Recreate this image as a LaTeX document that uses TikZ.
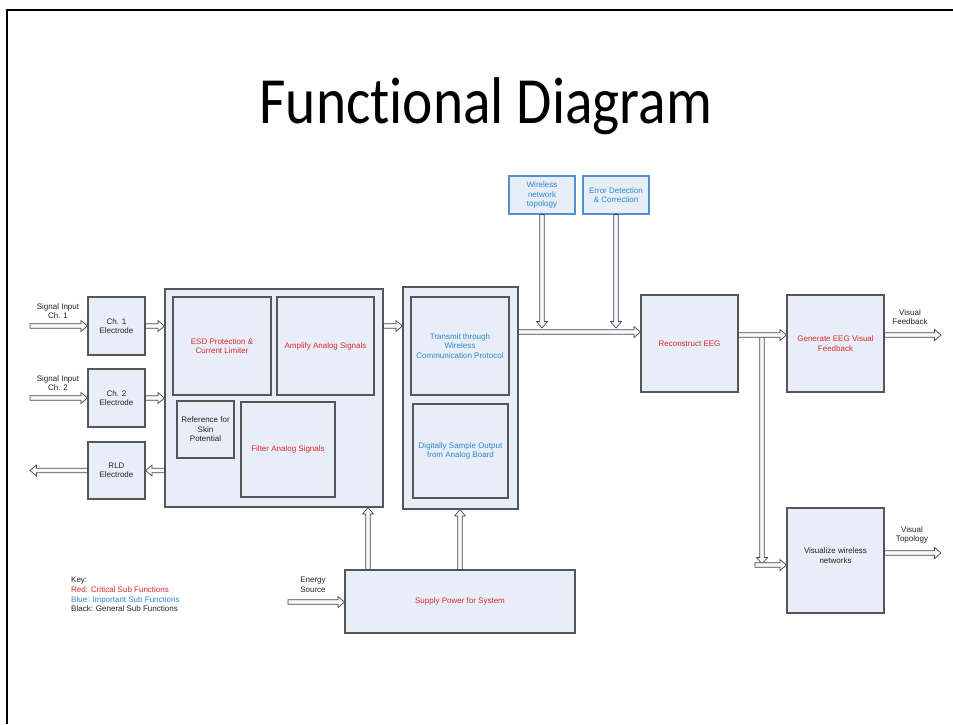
\documentclass[tikz,border=0pt]{standalone}
\usepackage{fontspec}
\setmainfont{Liberation Sans}
\newfontfamily\titlefont[Ligatures=NoCommon]{Carlito}
\usetikzlibrary{calc}

\definecolor{boxfill}{RGB}{232,238,247}
\definecolor{boxline}{RGB}{85,85,90}
\definecolor{bluebox}{RGB}{80,145,210}
\definecolor{critred}{RGB}{222,40,45}
\definecolor{impblue}{RGB}{45,135,210}
\definecolor{gentext}{RGB}{35,35,35}
\definecolor{arrline}{RGB}{70,72,80}
\definecolor{arrfill}{RGB}{246,248,252}

\tikzset{
  box/.style={draw=boxline, fill=boxfill, line width=1.1pt, inner sep=1pt, align=center,
    font=\fontsize{8}{9.5}\selectfont, text=gentext},
  crit/.style={text=critred},
  imp/.style={text=impblue},
  bluebx/.style={box, draw=bluebox, text=impblue},
  lbl/.style={align=center, font=\fontsize{8}{9.5}\selectfont, text=gentext, inner sep=0pt},
  barrow/.style={draw=arrline, fill=arrfill, line width=0.7pt, line join=miter,
    to path={let \p1=(\tikztostart), \p2=(\tikztotarget),
      \n1={veclen(\x2-\x1,\y2-\y1)}, \n2={(\x2-\x1)/\n1}, \n3={(\y2-\y1)/\n1} in
      (\x1-\n3*2.3pt, \y1+\n2*2.3pt)
      -- (\x2-\n2*6.5pt-\n3*2.3pt, \y2-\n3*6.5pt+\n2*2.3pt)
      -- (\x2-\n2*6.5pt-\n3*5.5pt, \y2-\n3*6.5pt+\n2*5.5pt)
      -- (\x2,\y2)
      -- (\x2-\n2*6.5pt+\n3*5.5pt, \y2-\n3*6.5pt-\n2*5.5pt)
      -- (\x2-\n2*6.5pt+\n3*2.3pt, \y2-\n3*6.5pt-\n2*2.3pt)
      -- (\x1+\n3*2.3pt, \y1-\n2*2.3pt) -- cycle}}
}

\begin{document}
\begin{tikzpicture}[x=1pt, y=-1pt]
\useasboundingbox (0,0) rectangle (953,724);
\fill[white] (0,0) rectangle (953,724);

% frame
\draw[line width=2.2pt, black] (7,724) -- (7,10) -- (953,10);

% title
\node[anchor=base, inner sep=0pt] (title) at (486,123)
  {\titlefont\fontsize{66}{70}\selectfont\scalebox{0.87}[1]{Funct\kern0pt ional Diagram}};

% left electrodes
\node[box, minimum width=57pt, minimum height=58pt] (ch1) at (116.5,326) {Ch. 1\\Electrode};
\node[box, minimum width=57pt, minimum height=58pt] (ch2) at (116.5,398) {Ch. 2\\Electrode};
\node[box, minimum width=57pt, minimum height=57pt] (rld) at (116.5,470.5) {RLD\\Electrode};

% analog board
\node[box, minimum width=218pt, minimum height=218pt] (ana) at (274,398) {};
\node[box, crit, minimum width=98pt, minimum height=98pt] (esd) at (222,346) {ESD Protection \&\\Current Limiter};
\node[box, crit, minimum width=97pt, minimum height=98pt] (amp) at (325.5,346) {Amplify Analog Signals};
\node[box, minimum width=57pt, minimum height=57pt] (ref) at (205.5,429.5) {Reference for\\Skin\\Potential};
\node[box, crit, minimum width=94pt, minimum height=95pt] (filt) at (288,449.5) {Filter Analog Signals};

% digital board
\node[box, minimum width=115pt, minimum height=222pt] (dig) at (460.5,398) {};
\node[box, imp, minimum width=98pt, minimum height=98pt] (tx) at (460,346) {Transmit through\\Wireless\\Communication Protocol};
\node[box, imp, minimum width=95pt, minimum height=94pt] (samp) at (460.5,451) {Digitally Sample Output\\from Analog Board};

% top blue boxes
\node[bluebx, minimum width=66pt, minimum height=38pt] (wnt) at (542,195) {Wireless\\network\\topology};
\node[bluebx, minimum width=66pt, minimum height=38pt] (err) at (616,195) {Error Detection\\\& Correction};

% right side
\node[box, crit, minimum width=97pt, minimum height=97pt] (rec) at (689.5,343.5) {Reconstruct EEG};
\node[box, crit, minimum width=97pt, minimum height=97pt] (gen) at (835.5,343.5) {Generate EEG Visual\\Feedback};
\node[box, minimum width=97pt, minimum height=105pt,
  label={[lbl, yshift=5pt]center:{Visualize wireless\\networks}}] (vis) at (835.5,560.5) {};

% power
\node[box, crit, minimum width=230pt, minimum height=63pt] (pow) at (460,601.5) {Supply Power for System};

% coordinates for free ends
\coordinate (s1) at (30,326);
\coordinate (s2) at (30,398);
\coordinate (rout) at (30,471);
\coordinate (m) at (580,332);
\coordinate (br) at (762,335);
\coordinate (bd) at (762,564);
\coordinate (vi) at (755,565);
\coordinate (fo) at (941,335);
\coordinate (tout) at (941,553);
\coordinate (pa) at (368,590);
\coordinate (pb) at (460,590);
\coordinate (es) at (288,602);

% arrows
\draw[barrow] (ch1.west -| s1) to (ch1.west);
\draw[barrow] (ch1.east) to (ch1.east -| ana.west);
\draw[barrow] (ch2.west -| s2) to (ch2.west);
\draw[barrow] (ch2.east) to (ch2.east -| ana.west);
\draw[barrow] (rld.east -| ana.west) to (rld.east);
\draw[barrow] (rld.west) to (rld.west -| rout);
\draw[barrow] (ch1.east -| ana.east) to (ch1.east -| dig.west);

\draw[barrow] (m -| dig.east) to (m -| rec.west);
\draw[barrow] (wnt.south) to ($(wnt.south |- m)+(0,-4)$);
\draw[barrow] (err.south) to ($(err.south |- m)+(0,-4)$);

\draw[barrow] (br) to (bd);
\draw[barrow] (br -| rec.east) to (br -| gen.west);
\draw[barrow] (vi) to (vi -| vis.west);
\draw[barrow] (br -| gen.east) to (fo);
\draw[barrow] (tout -| vis.east) to (tout);

\draw[barrow] (pa |- pow.north) to (pa |- ana.south);
\draw[barrow] (pb |- pow.north) to (pb |- dig.south);
\draw[barrow] (es) to (es -| pow.west);

% labels
\node[lbl] (l1) at (58,311) {Signal Input\\Ch. 1};
\node[lbl] (l2) at (58,383) {Signal Input\\Ch. 2};
\node[lbl] (lf) at (910,317) {Visual\\Feedback};
\node[lbl] (lt) at (912,535) {Visual\\Topology};
\node[lbl] (le) at (313,585) {Energy\\Source};
\node[lbl, align=left, anchor=north west, font=\fontsize{8}{9.7}\selectfont] (key) at (71,577)
  {Key:\\\textcolor{critred}{Red: Critical Sub Functions}\\\textcolor{impblue}{Blue: Important Sub Functions}\\Black: General Sub Functions};
\end{tikzpicture}
\end{document}
